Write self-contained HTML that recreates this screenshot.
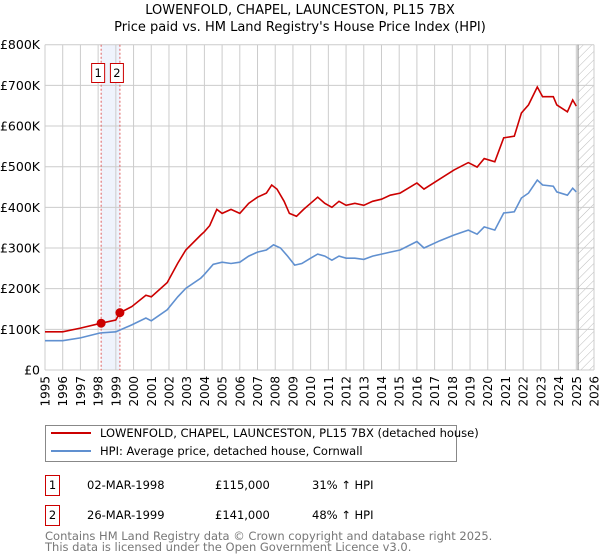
<!DOCTYPE html>
<html><head><meta charset="utf-8"><style>
body{margin:0;background:#fff;font-family:"Liberation Sans","DejaVu Sans",sans-serif;}
svg{display:block}
</style></head><body>
<svg id="c" width="600" height="560" xmlns="http://www.w3.org/2000/svg" font-family="DejaVu Sans, Liberation Sans, sans-serif">
<text x="300" y="14" text-anchor="middle" font-size="13">LOWENFOLD, CHAPEL, LAUNCESTON, PL15 7BX</text>
<text x="300" y="31" text-anchor="middle" font-size="13">Price paid vs. HM Land Registry's House Price Index (HPI)</text>
<defs><pattern id="hatch" width="6" height="6" patternUnits="userSpaceOnUse" patternTransform="rotate(45)"><line x1="0" y1="0" x2="0" y2="6" stroke="#bbb" stroke-width="1"/></pattern></defs>
<g id="grid"></g>
<g id="marks"></g>
<g id="axes"></g>
<rect x="45.5" y="425.5" width="411" height="36" fill="#fff" stroke="#888"/>
<line x1="51" y1="433" x2="91" y2="433" stroke="#cc0000" stroke-width="2"/>
<text x="100" y="437" font-size="11.5">LOWENFOLD, CHAPEL, LAUNCESTON, PL15 7BX (detached house)</text>
<line x1="51" y1="451" x2="91" y2="451" stroke="#6090d0" stroke-width="2"/>
<text x="100" y="455" font-size="11.5">HPI: Average price, detached house, Cornwall</text>
<g font-size="11.5">
<rect x="45.5" y="475.5" width="14" height="20" fill="#fff" stroke="#cc0000"/><text x="52.5" y="489" text-anchor="middle">1</text>
<text x="87" y="489">02-MAR-1998</text><text x="215" y="489">£115,000</text><text x="312" y="489">31% ↑ HPI</text></g>
<g font-size="11.5">
<rect x="45.5" y="505.5" width="14" height="20" fill="#fff" stroke="#cc0000"/><text x="52.5" y="519" text-anchor="middle">2</text>
<text x="87" y="519">26-MAR-1999</text><text x="215" y="519">£141,000</text><text x="312" y="519">48% ↑ HPI</text></g>
<text x="45" y="540" font-size="11.5" fill="#777">Contains HM Land Registry data © Crown copyright and database right 2025.</text>
<text x="45" y="551" font-size="11.5" fill="#777">This data is licensed under the Open Government Licence v3.0.</text>
</svg>
<script>
const yearTicks=[1995,1996,1997,1998,1999,2000,2001,2002,2003,2004,2005,2006,2007,2008,2009,2010,2011,2012,2013,2014,2015,2016,2017,2018,2019,2020,2021,2022,2023,2024,2025,2026];
const valueTicks=[0,100,200,300,400,500,600,700,800];
const valueTickLabels=["£0","£100K","£200K","£300K","£400K","£500K","£600K","£700K","£800K"];
const priceYears=[1995,1996,1997,1998.17,1999.0,1999.23,1999.9,2000.7,2001.0,2001.9,2002.5,2002.95,2003.8,2004.0,2004.3,2004.7,2005,2005.5,2006,2006.5,2007,2007.5,2007.8,2008.1,2008.5,2008.8,2009.2,2009.6,2010,2010.4,2010.8,2011.2,2011.6,2012,2012.5,2013,2013.5,2014,2014.5,2015.05,2016.0,2016.4,2017.3,2018.1,2018.9,2019.4,2019.8,2020.4,2020.9,2021.5,2021.9,2022.3,2022.8,2023.1,2023.7,2023.9,2024.5,2024.8,2025.0];
const priceValues=[94,94,103,115,123,141,156,184,180,215,263,295,332,340,355,395,385,395,385,410,425,435,455,445,415,385,378,395,410,425,410,400,415,405,410,405,415,420,430,435,460,445,470,492,510,499,520,512,571,575,632,652,696,672,672,652,635,664,649];
const hpiYears=[1995,1996,1997,1998.1,1999.0,1999.9,2000.7,2001.0,2001.9,2002.5,2002.95,2003.8,2004,2004.5,2005,2005.5,2006,2006.5,2007,2007.5,2007.9,2008.3,2008.7,2009.1,2009.5,2010,2010.4,2010.8,2011.2,2011.6,2012,2012.5,2013,2013.5,2014,2014.5,2015.05,2016.0,2016.4,2017.3,2018.1,2018.9,2019.4,2019.8,2020.4,2020.9,2021.5,2021.9,2022.3,2022.8,2023.1,2023.7,2023.9,2024.5,2024.8,2025.0];
const hpiValues=[72,72,79,91,94,111,128,121,148,180,201,226,235,260,265,262,265,280,290,295,308,300,280,258,262,275,285,280,270,280,275,275,272,280,285,290,295,316,300,318,332,344,334,352,344,386,389,423,435,467,455,452,438,430,447,438];
const saleLabels=["1","2"];
const saleYears=[1998.17,1999.23];
const saleValues=[115,141];
const forecastStart=2025.1;

const X0=45,X1=594,Y0=370,Y1=44.7;
const xs=y=>X0+(y-1995)/(2026-1995)*(X1-X0);
const ys=v=>Y0-v/800*(Y0-Y1);
const NS="http://www.w3.org/2000/svg";
function mk(tag,attrs,parent){const e=document.createElementNS(NS,tag);for(const k in attrs)e.setAttribute(k,attrs[k]);parent.appendChild(e);return e;}
const grid=document.getElementById('grid'),marks=document.getElementById('marks'),axes=document.getElementById('axes');
const band=mk('rect',{x:xs(saleYears[0]),y:Y1,width:xs(saleYears[1])-xs(saleYears[0]),height:Y0-Y1,fill:'#e8eefb',opacity:0.7},grid);


const hat=mk('rect',{x:xs(forecastStart),y:Y1,width:X1-xs(forecastStart),height:Y0-Y1,fill:'url(#hatch)'},grid);


yearTicks.forEach(t=>{const l=mk('line',{x1:xs(t),x2:xs(t),y1:Y1,y2:Y0,stroke:'#ccc','stroke-width':1},grid);


const tx=mk('text',{x:0,y:0,'font-size':12,'text-anchor':'end',transform:`translate(${xs(t)+4.5},376) rotate(-90)`},axes);tx.textContent=t;

});
valueTicks.forEach((v,i)=>{const l=mk('line',{x1:X0,x2:X1,y1:ys(v),y2:ys(v),stroke:'#ccc','stroke-width':1},grid);


const tx=mk('text',{x:40,y:ys(v)+4.5,'font-size':12.5,'text-anchor':'end'},axes);tx.textContent=valueTickLabels[i];

});
const fl=mk('line',{x1:xs(forecastStart),x2:xs(forecastStart),y1:Y1,y2:Y0,stroke:'#888','stroke-width':1},grid);


saleYears.forEach((s,i)=>{const l=mk('line',{x1:xs(s),x2:xs(s),y1:Y1,y2:Y0,stroke:'#e06060','stroke-width':1,'stroke-dasharray':'2,2'},marks);


const bx=xs(s)-3;
const r=mk('rect',{x:bx-6.5,y:63.5,width:13,height:19,fill:'#fff',stroke:'#cc0000'},marks);


const t=mk('text',{x:bx,y:77,'font-size':11.5,'text-anchor':'middle'},marks);t.textContent=saleLabels[i];

});
const path=(xa,va)=>xa.map((x,i)=>(i?'L':'M')+xs(x).toFixed(1)+','+ys(va[i]).toFixed(1)).join('');
const hp=mk('path',{d:path(hpiYears,hpiValues),fill:'none',stroke:'#6090d0','stroke-width':1.6},marks);


const pp=mk('path',{d:path(priceYears,priceValues),fill:'none',stroke:'#cc0000','stroke-width':1.6},marks);


saleYears.forEach((s,i)=>{const c=mk('circle',{cx:xs(s),cy:ys(saleValues[i]),r:4.5,fill:'#cc0000'},marks);

});
</script>
</body></html>
